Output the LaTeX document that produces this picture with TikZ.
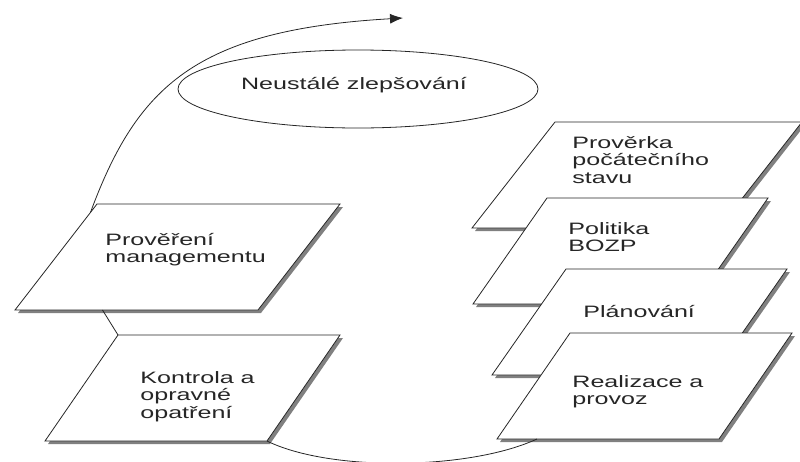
\documentclass[tikz,border=0pt]{standalone}
\usepackage{fontspec}
\newfontfamily\slabfont[FakeStretch=1.52]{Liberation Sans}
\usepackage{tikz}
\usetikzlibrary{arrows.meta,calc}

\begin{document}
\begin{tikzpicture}[x=1pt,y=-1pt,line width=0.8pt,
  slab/.style={draw=black!85,fill=white},
  slabshadow/.style={fill=black!50},
  lbl/.style={font=\slabfont\fontsize{16.5}{17.5}\selectfont,align=left,anchor=base west,inner sep=0pt,text=black!85}]
\useasboundingbox (0,0) rectangle (800,461);
%Name/x oben links/y oben/Breite/Versatz der Schraege/x Text/y Grundlinie (letzte Zeile)/Text
\foreach \n/\x/\y/\w/\s/\lx/\ly/\txt in {
  pm/97/204/243/82/105/262.5/{Prověření\\managementu},
  ko/118/335/222/73/140/418/{Kontrola a\\opravné\\opatření},
  pp/555/122/247/83/572/183/{Prověrka\\počátečního\\stavu},
  bo/547/198/221/74/568/251.5/{Politika\\BOZP},
  pl/566/269/221/74/583/317/{Plánování},
  re/570/333/222/73/572/404.5/{Realizace a\\provoz}}{
\fill[slabshadow] (\x+3,\y+3) -- ++(\w,0) -- ++(-\s,106) -- ++(-\w,0) -- cycle;
\draw[slab] (\x,\y) coordinate (\n-tl) -- ++(\w,0) coordinate (\n-tr) -- ++(-\s,106) coordinate (\n-br) -- ++(-\w,0) coordinate (\n-bl) -- cycle;
\node[lbl] (\n) at (\lx,\ly) {\txt};
}
%Ellipse oben mit Text
\draw[black!85] (358,89) ellipse [x radius=180pt, y radius=39pt];
\node[lbl,anchor=base] (nz) at (354,89) {Neustálé zlepšování};
\coordinate (tip) at (403,18);
\draw[black!85,-{Latex[length=13pt,width=10pt]}] ($(pm-tl)!0.08!(pm-bl)$) .. controls (137,87) and (195,30) .. (tip);
\draw[black!85] ($(pm-bl)!0.36!(pm-br)$) -- (ko-tl);
\draw[black!85] (ko-br) .. controls (330,472) and (470,470) .. ($(re-bl)!0.18!(re-br)$);
\end{tikzpicture}
\end{document}
